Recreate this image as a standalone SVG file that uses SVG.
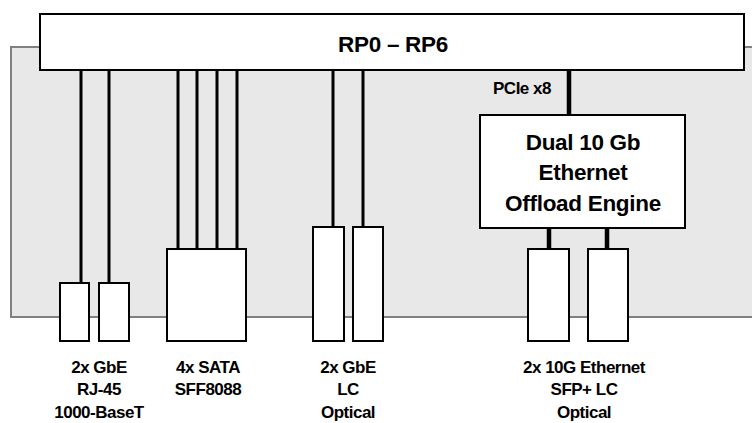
<svg xmlns="http://www.w3.org/2000/svg" width="752" height="423" viewBox="0 0 752 423">
<style>
.bg{fill:#e8e8e8;stroke:#808080;stroke-width:2}
.box{fill:#fff;stroke:#000;stroke-width:2}
.wire{stroke:#000;stroke-width:3;fill:none}
.thick{stroke:#000;stroke-width:4.5;fill:none}
text{font-family:"Liberation Sans",Arial,sans-serif;font-weight:bold;fill:#000;text-anchor:middle}
.big{font-size:22.5px;letter-spacing:-0.3px}
.sm{font-size:17px;letter-spacing:-0.5px}
</style>
<rect fill="#fff" x="0" y="0" width="752" height="423"/>
<g id="chassis"><rect class="bg" x="11" y="47" width="760" height="270"/></g>
<g id="connectors">
<line class="wire" x1="81" y1="70" x2="81" y2="283"/>
<line class="wire" x1="109" y1="70" x2="109" y2="283"/>
<line class="wire" x1="178" y1="70" x2="178" y2="249"/>
<line class="wire" x1="197" y1="70" x2="197" y2="249"/>
<line class="wire" x1="217" y1="70" x2="217" y2="249"/>
<line class="wire" x1="237" y1="70" x2="237" y2="249"/>
<line class="wire" x1="333" y1="70" x2="333" y2="227"/>
<line class="wire" x1="363" y1="70" x2="363" y2="227"/>
<line class="thick" x1="569" y1="70" x2="569" y2="115"/>
<line class="thick" x1="549" y1="228" x2="549" y2="249"/>
<line class="thick" x1="607" y1="228" x2="607" y2="249"/>
<text class="sm" x="522" y="94">PCIe x8</text>
</g>
<g id="rp"><rect class="box" x="40" y="14" width="704" height="56"/><text class="big" x="393" y="52">RP0 – RP6</text></g>
<g id="offload"><rect class="box" x="480" y="115" width="205" height="113"/>
<text class="big" x="583" y="150">Dual 10 Gb</text>
<text class="big" x="583" y="180">Ethernet</text>
<text class="big" x="583" y="211">Offload Engine</text></g>
<g id="rj45"><rect class="box" x="60" y="283" width="29" height="58"/><rect class="box" x="99" y="283" width="30" height="58"/>
<text class="sm" x="99" y="373">2x GbE</text><text class="sm" x="99" y="395">RJ-45</text><text class="sm" x="99" y="418">1000-BaseT</text></g>
<g id="sata"><rect class="box" x="167" y="249" width="79" height="92"/>
<text class="sm" x="208" y="373">4x SATA</text><text class="sm" x="208" y="395">SFF8088</text></g>
<g id="lc"><rect class="box" x="313" y="227" width="31" height="114"/><rect class="box" x="353" y="227" width="30" height="114"/>
<text class="sm" x="348" y="373">2x GbE</text><text class="sm" x="348" y="395">LC</text><text class="sm" x="348" y="418">Optical</text></g>
<g id="sfp"><rect class="box" x="528" y="249" width="41" height="92"/><rect class="box" x="588" y="249" width="40" height="92"/>
<text class="sm" x="584" y="373">2x 10G Ethernet</text><text class="sm" x="584" y="395">SFP+ LC</text><text class="sm" x="584" y="418">Optical</text></g>
</svg>
